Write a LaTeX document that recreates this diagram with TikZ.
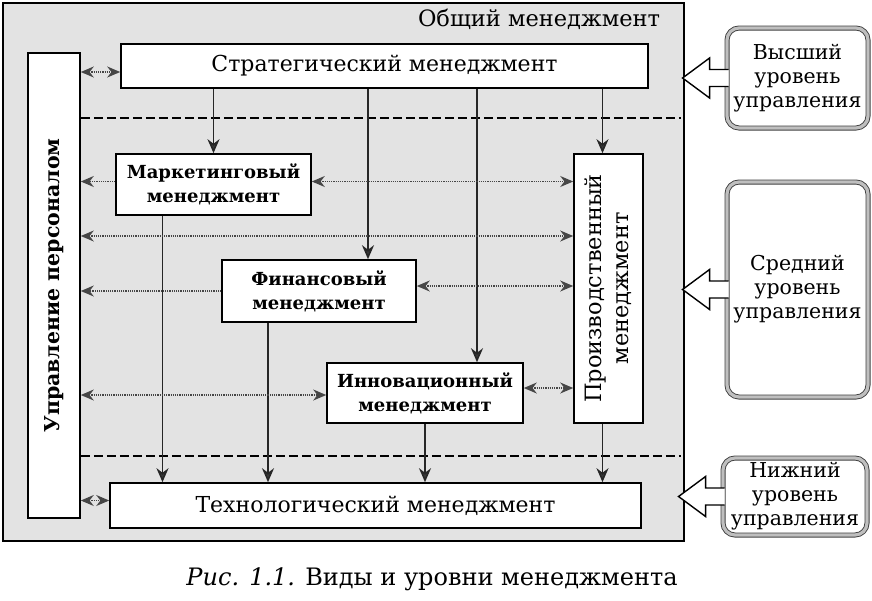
\documentclass[tikz,border=0pt]{standalone}
\usepackage{fontspec}
\setmainfont{DejaVu Serif}
\usetikzlibrary{arrows.meta}

\tikzset{mbox/.style = {shape = rectangle,
                        draw = black,
                        fill = white,
                        line width = 1.6pt,
                        inner sep = 2pt,
                        align = center,
                        font = \fontsize{22}{26}\selectfont}}

\begin{document}
\begin{tikzpicture}[x=1pt, y=-1pt,
        gbox/.style = {shape = rectangle,
                       draw = black,
                       fill = gray!22,
                       line width = 2pt,
                       minimum width = 681pt,
                       minimum height = 538pt},
        lbox/.style = {shape = rectangle,
                       draw = black!75,
                       double = gray!50,
                       double distance = 3.2pt,
                       line width = 0.9pt,
                       rounded corners = 12pt,
                       fill = white,
                       align = center,
                       font = \fontsize{20.5}{24}\selectfont},
        lline/.style = {dashed, line width = 1.4pt, dash pattern = on 9pt off 4pt},
        varr/.style = {line width = 1.6pt, draw = black!85,
                       -{Stealth[length = 14pt, width = 12pt, fill = gray!45!black]}},
        harr/.style = {line width = 1.2pt, draw = gray!55!black, densely dotted,
                       -{Stealth[length = 13pt, width = 11pt, fill = gray!55!black]}},
        darr/.style = {harr,
                       {Stealth[length = 13pt, width = 11pt, fill = gray!55!black]}-{Stealth[length = 13pt, width = 11pt, fill = gray!55!black]}},
        barr/.style = {draw = black, fill = white, line width = 1.4pt, line join = miter}]
    \useasboundingbox (0,0) rectangle (872,600);

    % outer frame
    \node[gbox] (g) at (343.5,272) {};
    \node[font = \fontsize{22.5}{26}\selectfont] (gt) at (539,19) {Общий менеджмент};

    % kinds of management
    \node[mbox, minimum width = 527pt, minimum height = 44pt] (str) at (384.5,66) {Стратегический менеджмент};
    \node[mbox, rotate = 90, minimum width = 465pt, minimum height = 52pt,
          font = \fontsize{20.5}{25}\selectfont\bfseries] (per) at (54,285.5) {Управление персоналом};
    \node[mbox, minimum width = 195pt, minimum height = 61pt,
          font = \fontsize{18}{24}\selectfont\bfseries] (mrk) at (213.5,184.5) {Маркетинговый\\менеджмент};
    \node[mbox, minimum width = 194pt, minimum height = 62pt,
          font = \fontsize{18}{24}\selectfont\bfseries] (fin) at (319,291) {Финансовый\\менеджмент};
    \node[mbox, minimum width = 196pt, minimum height = 60pt,
          font = \fontsize{18}{24}\selectfont\bfseries] (inn) at (425,393) {Инновационный\\менеджмент};
    \node[mbox, rotate = 90, minimum width = 269pt, minimum height = 69pt,
          font = \fontsize{22.5}{27}\selectfont] (prd) at (608.5,288.5) {Производственный\\менеджмент};
    \node[mbox, minimum width = 531pt, minimum height = 45pt] (tec) at (375.5,505.5) {Технологический менеджмент};

    % levels
    \node[lbox, minimum width = 141pt, minimum height = 100pt] (hi) at (797.5,78) {Высший\\уровень\\управления};
    \node[lbox, minimum width = 141pt, minimum height = 215pt] (md) at (797.5,289.5) {Средний\\уровень\\управления};
    \node[lbox, minimum width = 144pt, minimum height = 77pt] (lo) at (795,496.5) {Нижний\\уровень\\управления};

    % level borders
    \coordinate (l1) at (0,118);
    \coordinate (l2) at (0,456);
    \draw[lline] (per.south |- l1) -- ([xshift = -4pt]g.east |- l1);
    \draw[lline] (per.south |- l2) -- ([xshift = -4pt]g.east |- l2);

    % down
    \draw[varr] (str.south -| mrk.north) -- (mrk.north);
    \draw[varr] ([xshift = 49pt]fin.north |- str.south) -- ([xshift = 49pt]fin.north);
    \draw[varr] ([xshift = 52pt]inn.north |- str.south) -- ([xshift = 52pt]inn.north);
    \draw[varr] ([xshift = -6pt]prd.east |- str.south) -- ([xshift = -6pt]prd.east);
    \draw[varr] ([xshift = -51pt]mrk.south) -- ([xshift = -51pt]mrk.south |- tec.north);
    \draw[varr] ([xshift = -51pt]fin.south) -- ([xshift = -51pt]fin.south |- tec.north);
    \draw[varr] (inn.south) -- (inn.south |- tec.north);
    \draw[varr] ([xshift = -6pt]prd.west) -- ([xshift = -6pt]prd.west |- tec.north);

    % across
    \coordinate (r2) at (0,236);
    \draw[darr] ([yshift = -6pt]str.west -| per.south) -- ([yshift = -6pt]str.west);
    \draw[harr] ([yshift = 3pt]mrk.west) -- ([yshift = 3pt]mrk.west -| per.south);
    \draw[darr] ([yshift = 3pt]mrk.east) -- ([yshift = 3pt]mrk.east -| prd.north);
    \draw[darr] (per.south |- r2) -- (prd.north |- r2);
    \draw[harr] (fin.west) -- (fin.west -| per.south);
    \draw[darr] ([yshift = 5pt]fin.east) -- ([yshift = 5pt]fin.east -| prd.north);
    \draw[darr] ([yshift = -2pt]inn.west -| per.south) -- ([yshift = -2pt]inn.west);
    \draw[darr] ([yshift = 5pt]inn.east) -- ([yshift = 5pt]inn.east -| prd.north);
    \draw[darr] ([yshift = 5pt]tec.west -| per.south) -- ([yshift = 5pt]tec.west);

    % level arrows
    \foreach \l in {hi,md,lo}
        \draw[barr] ([xshift = 2pt]\l.west) ++(0,-8.5) -- ++(-19,0) -- ++(0,-11.5) -- ++(-27,20)
            -- ++(27,20) -- ++(0,-11.5) -- ++(19,0);

    \node[font = \fontsize{24}{28}\selectfont] (cap) at (432,579) {\textit{Рис. 1.1.} Виды и уровни менеджмента};
\end{tikzpicture}
\end{document}
